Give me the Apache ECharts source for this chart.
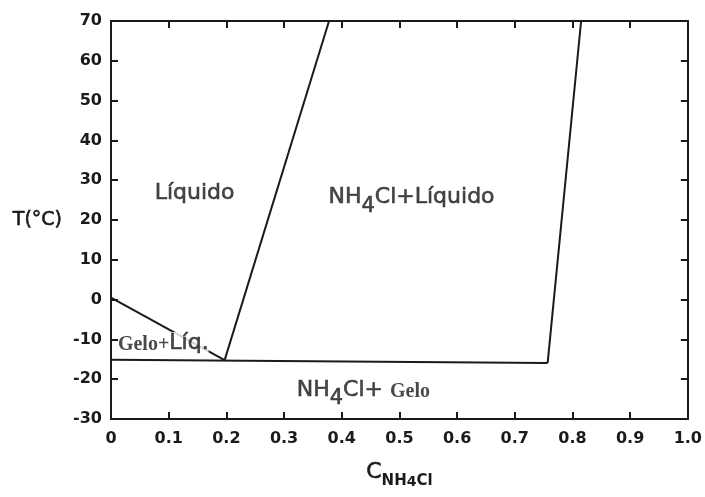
<!DOCTYPE html>
<html>
<head>
<meta charset="utf-8">
<script src="https://cdn.jsdelivr.net/npm/echarts@6/dist/echarts.min.js"></script>
<style>
  html, body { margin: 0; padding: 0; background: #fff; }
  #main { width: 705px; height: 497px; }
</style>
</head>
<body>
<div id="main"></div>
<script>
// linhas do diagrama de fases (fracao NH4Cl, T em graus C)
var linhaGelo = [[0, 0.5], [0.197, -15.2]];
var linhaEutetica = [[0, -15.1], [0.757, -15.9]];
var linhaNH4ClEsq = [[0.197, -15.2], [0.378, 70]];
var linhaNH4ClDir = [[0.757, -15.9], [0.815, 70]];

// rotulos das regioes
var rotulos = [
  { pos: [0.145, 25.6], txt: '{s|Líquido}', align: 'center' },
  { pos: [0.521, 24.6], txt: '{s|NH}{sub|4}{s|Cl+Líquido}', align: 'center' },
  { pos: [0.012, -11.9], txt: '{g|Gelo+}{q|Líq.}', align: 'left' },
  { pos: [0.322, -23.7], txt: '{s|NH}{sub|4}{s|Cl+ }{g|Gelo}', align: 'left' }
];

var xMin = 0, xMax = 1, xStep = 0.1;
var yMin = -30, yMax = 70, yStep = 10;

var cor = '#1a1a1a';
var borda = { textBorderColor: cor, textBorderWidth: 0.6 };
var richTxt = {
  s: Object.assign({ fontFamily: 'DejaVu Sans', fontSize: 22, color: cor, height: 22, lineHeight: 30,
       verticalAlign: 'top' }, borda),
  q: Object.assign({ fontFamily: 'DejaVu Sans', fontSize: 22, color: cor, height: 22, lineHeight: 30,
       verticalAlign: 'top', backgroundColor: '#fff' }, borda),
  sub: Object.assign({ fontFamily: 'DejaVu Sans', fontSize: 21, color: cor, height: 20, lineHeight: 30,
       verticalAlign: 'bottom' }, borda),
  g: { fontFamily: 'Liberation Serif', fontWeight: 'bold', fontSize: 20, color: cor, height: 26, lineHeight: 30,
       verticalAlign: 'top' }
};

var myChart = echarts.init(document.getElementById('main'));

function serieLinha(dados) {
  return {
    type: 'line',
    data: dados,
    symbol: 'none',
    silent: true,
    lineStyle: { color: cor, width: 2 },
    z: 3
  };
}

var series = [
  serieLinha(linhaGelo),
  serieLinha(linhaEutetica),
  serieLinha(linhaNH4ClEsq),
  serieLinha(linhaNH4ClDir)
];

rotulos.forEach(function (r) {
  series.push({
    type: 'scatter',
    data: [r.pos],
    symbolSize: 0,
    silent: true,
    z: 5,
    label: {
      show: true,
      position: 'inside',
      align: r.align,
      verticalAlign: 'middle',
      formatter: r.txt,
      rich: richTxt
    }
  });
});

var rotuloEixo = {
  fontFamily: 'DejaVu Sans',
  fontWeight: 'bold',
  fontSize: 16,
  color: cor
};

var linhaEixo = { onZero: false, lineStyle: { color: cor, width: 2 } };
var tickEixo = { show: true, inside: true, length: 7, lineStyle: { color: cor, width: 2 } };

var option = {
  animation: false,
  backgroundColor: '#fff',
  grid: { left: 111, right: 13, top: 21, bottom: 78 },
  xAxis: [
    {
      type: 'value', min: xMin, max: xMax, interval: xStep, position: 'bottom',
      axisLine: linhaEixo,
      axisTick: tickEixo,
      axisLabel: Object.assign({
        margin: 12,
        formatter: function (v) {
          if (v === 0) return '0';
          return v.toFixed(1);
        }
      }, rotuloEixo),
      splitLine: { show: false },
      name: '{c|C}{n|NH}{n4|4}{n|Cl}',
      nameLocation: 'middle',
      nameGap: 42,
      nameTextStyle: {
        rich: {
          c: Object.assign({ fontFamily: 'DejaVu Sans', fontSize: 22, color: cor, height: 22, lineHeight: 28,
               verticalAlign: 'top' }, borda),
          n: { fontFamily: 'DejaVu Sans', fontWeight: 'bold', fontSize: 15, color: cor, height: 16, lineHeight: 28,
               verticalAlign: 'bottom' },
          n4: { fontFamily: 'DejaVu Sans', fontWeight: 'bold', fontSize: 14, color: cor, height: 14, lineHeight: 28,
                verticalAlign: 'bottom' }
        }
      }
    },
    {
      type: 'value', min: xMin, max: xMax, interval: xStep, position: 'top',
      axisLine: Object.assign({ show: true }, linhaEixo),
      axisTick: tickEixo,
      axisLabel: { show: false },
      splitLine: { show: false }
    }
  ],
  yAxis: [
    {
      type: 'value', min: yMin, max: yMax, interval: yStep, position: 'left',
      axisLine: linhaEixo,
      axisTick: tickEixo,
      axisLabel: Object.assign({ margin: 9 }, rotuloEixo),
      splitLine: { show: false },
      name: 'T(°C)',
      nameLocation: 'middle',
      nameRotate: 0,
      nameGap: 49,
      nameTextStyle: Object.assign({ fontFamily: 'DejaVu Sans', fontSize: 19, color: cor }, borda)
    },
    {
      type: 'value', min: yMin, max: yMax, interval: yStep, position: 'right',
      axisLine: Object.assign({ show: true }, linhaEixo),
      axisTick: tickEixo,
      axisLabel: { show: false },
      splitLine: { show: false }
    }
  ],
  series: series
};

if (option && typeof option === 'object') {
  myChart.setOption(option, true);
}
</script>
</body>
</html>
